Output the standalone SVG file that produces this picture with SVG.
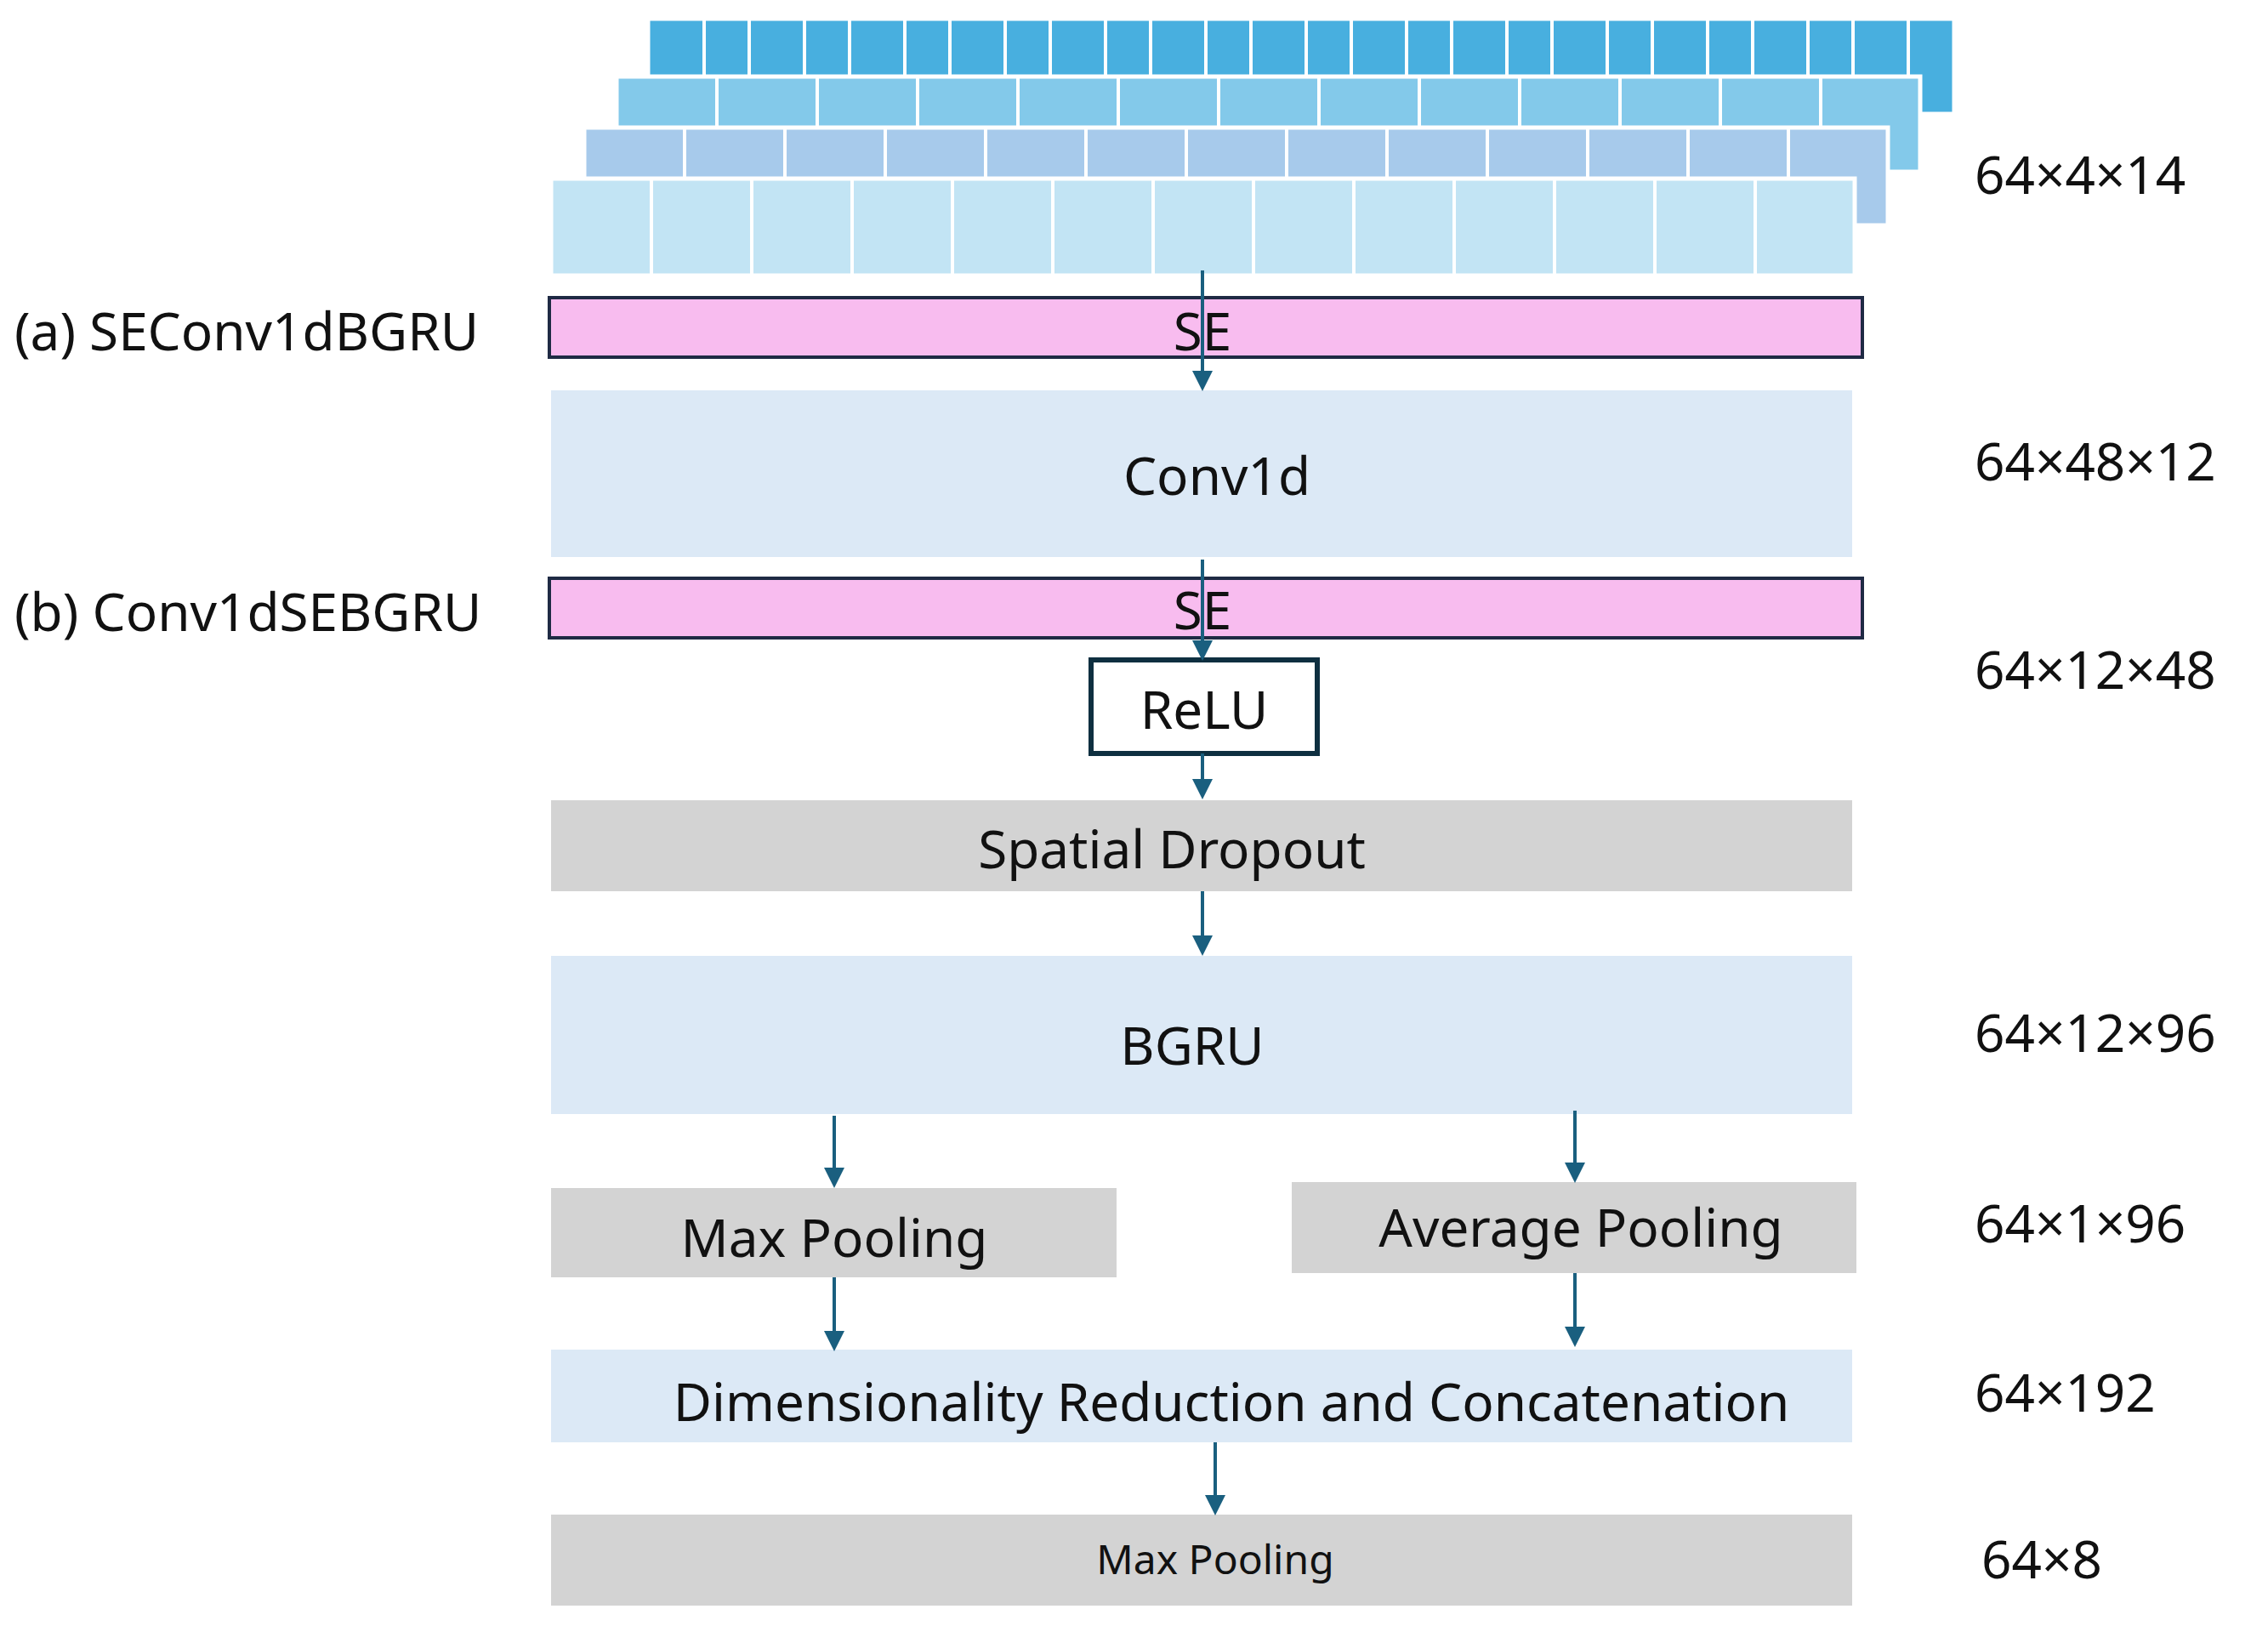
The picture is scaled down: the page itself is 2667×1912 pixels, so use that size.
<svg xmlns="http://www.w3.org/2000/svg" width="2667" height="1912" viewBox="0 0 2667 1912">
<style>
text{font-family:"Noto Sans","Open Sans","DejaVu Sans",sans-serif;fill:#111}
.t{font-size:62px;text-anchor:middle;dominant-baseline:central}
.d{font-size:62px;dominant-baseline:central}
.blue{fill:#DCE9F6}
.gray{fill:#D3D3D3}
.pink{fill:#F8BCEF;stroke:#1F2A44;stroke-width:4}
.grid{stroke:#fff;stroke-width:4}
.c{stroke:#1A5F7F;stroke-width:4;fill:none;marker-end:url(#a)}
</style>
<defs>
<marker id="a" markerWidth="6" markerHeight="6" refX="5" refY="3" orient="auto" markerUnits="strokeWidth"><path d="M0,0L6,3L0,6z" fill="#1A5F7F"/></marker>
<pattern id="g" width="118" height="200" patternUnits="userSpaceOnUse"><rect x="0" y="0" width="4" height="200" fill="#fff"/></pattern>
</defs>
<rect width="2667" height="1912" fill="#fff"/>
<g id="input">
<rect x="763" y="23" width="1534" height="110" fill="#48AFDF" stroke="#fff" stroke-width="3"/>
<rect x="763" y="23" width="1534" height="65" fill="url(#g)" transform="translate(763 0) translate(-763 0)"/>
<rect x="725" y="90" width="1533" height="112" fill="#83C9EA" stroke="#fff" stroke-width="5"/>
<rect x="687" y="150" width="1533" height="115" fill="#A7CAEB" stroke="#fff" stroke-width="5"/>
<rect x="648" y="210" width="1533" height="114" fill="#C2E4F4" stroke="#fff" stroke-width="5"/>
<g class="grid">
<path d="M881 23V88M999 23V88M1117 23V88M1235 23V88M1353 23V88M1471 23V88M1589 23V88M1707 23V88M1825 23V88M1943 23V88M2061 23V88M2179 23V88"/>
<path d="M843 92V152M961 92V152M1079 92V152M1197 92V152M1315 92V152M1433 92V152M1551 92V152M1669 92V152M1787 92V152M1905 92V152M2023 92V152M2141 92V152"/>
<path d="M805 152V210M923 152V210M1041 152V210M1159 152V210M1277 152V210M1395 152V210M1513 152V210M1631 152V210M1749 152V210M1867 152V210M1985 152V210M2103 152V210"/>
<path d="M766 212V324M884 212V324M1002 212V324M1120 212V324M1238 212V324M1356 212V324M1474 212V324M1592 212V324M1710 212V324M1828 212V324M1946 212V324M2064 212V324"/>
</g>
</g>
<g id="se1"><rect class="pink" x="646" y="350" width="1544" height="70"/><text class="t" x="1414" y="388">SE</text></g>
<g id="conv1d"><rect class="blue" x="648" y="459" width="1530" height="196"/><text class="t" x="1431" y="558">Conv1d</text></g>
<g id="se2"><rect class="pink" x="646" y="680" width="1544" height="70"/><text class="t" x="1414" y="716">SE</text></g>
<g id="relu"><rect x="1283" y="776" width="266" height="110" fill="#fff" stroke="#0E2F40" stroke-width="6"/><text class="t" x="1416" y="833">ReLU</text></g>
<g id="dropout"><rect class="gray" x="648" y="941" width="1530" height="107"/><text class="t" x="1378" y="997">Spatial Dropout</text></g>
<g id="bgru"><rect class="blue" x="648" y="1124" width="1530" height="186"/><text class="t" x="1402" y="1228">BGRU</text></g>
<g id="maxpool"><rect class="gray" x="648" y="1397" width="665" height="105"/><text class="t" x="981" y="1454">Max Pooling</text></g>
<g id="avgpool"><rect class="gray" x="1519" y="1390" width="664" height="107"/><text class="t" x="1859" y="1442">Average Pooling</text></g>
<g id="dimred"><rect class="blue" x="648" y="1587" width="1530" height="109"/><text class="t" x="1448" y="1647">Dimensionality Reduction and Concatenation</text></g>
<g id="maxpool2"><rect class="gray" x="648" y="1781" width="1530" height="107"/><text class="t" x="1429" y="1832" style="font-size:48px">Max Pooling</text></g>
<g id="labels">
<text class="d" x="17" y="388">(a) SEConv1dBGRU</text>
<text class="d" x="17" y="718">(b) Conv1dSEBGRU</text>
<text class="d" x="2322" y="204">64×4×14</text>
<text class="d" x="2322" y="541">64×48×12</text>
<text class="d" x="2322" y="786">64×12×48</text>
<text class="d" x="2322" y="1213">64×12×96</text>
<text class="d" x="2322" y="1437">64×1×96</text>
<text class="d" x="2322" y="1636">64×192</text>
<text class="d" x="2330" y="1832">64×8</text>
</g>
<g id="connectors">
<path class="c" d="M1414 318V456"/>
<path class="c" d="M1414 658V773"/>
<path class="c" d="M1414 886V936"/>
<path class="c" d="M1414 1048V1120"/>
<path class="c" d="M981 1312V1393"/>
<path class="c" d="M1852 1306V1387"/>
<path class="c" d="M981 1502V1585"/>
<path class="c" d="M1852 1497V1580"/>
<path class="c" d="M1429 1696V1778"/>
</g>
</svg>
